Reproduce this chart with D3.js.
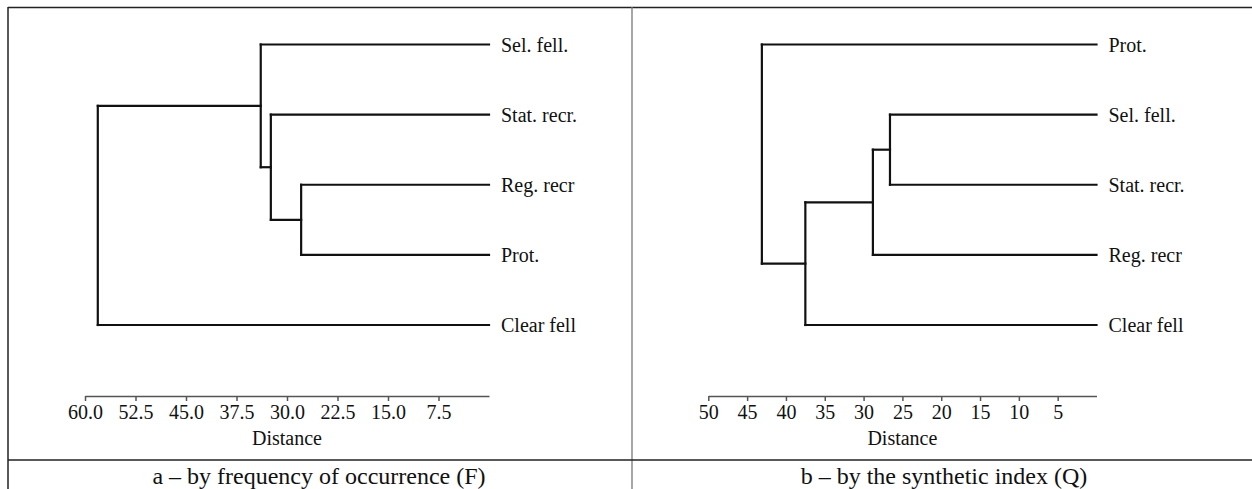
<!DOCTYPE html>
<html>
<head>
<meta charset="utf-8">
<script src="https://cdn.jsdelivr.net/npm/d3@7"></script>
<style>
  body { margin: 0; background: #fff; }
  text { font-family: "Liberation Serif", "Times New Roman", serif; fill: #111; }
</style>
</head>
<body>
<div id="chart"></div>
<script>
// leaf order (top to bottom) and merges [childA, childB, distance]
// indices >= leaves.length point at earlier merges
var leftLeaves = ["Sel. fell.", "Stat. recr.", "Reg. recr", "Prot.", "Clear fell"];
var leftMerges = [[2, 3, 27.9], [1, 5, 32.4], [0, 6, 33.9], [7, 4, 58.1]];
var leftTicks = [60, 52.5, 45, 37.5, 30, 22.5, 15, 7.5];
var leftCaption = "a \u2013 by frequency of occurrence (F)";

var rightLeaves = ["Prot.", "Sel. fell.", "Stat. recr.", "Reg. recr", "Clear fell"];
var rightMerges = [[1, 2, 26.6], [5, 3, 28.8], [6, 4, 37.5], [0, 7, 43.1]];
var rightTicks = [50, 45, 40, 35, 30, 25, 20, 15, 10, 5];
var rightCaption = "b \u2013 by the synthetic index (Q)";

var width = 1252, height = 489;

var svg = d3.select("#chart").append("svg")
    .attr("width", width)
    .attr("height", height);

// table frame
var frame = svg.append("g").attr("fill", "none");
frame.append("line").attr("x1", 8).attr("x2", width).attr("y1", 7.5).attr("y2", 7.5)
    .attr("stroke", "#222").attr("stroke-width", 1.5);
frame.append("line").attr("x1", 8).attr("x2", 8).attr("y1", 7).attr("y2", height)
    .attr("stroke", "#222").attr("stroke-width", 1.5);
frame.append("line").attr("x1", 632).attr("x2", 632).attr("y1", 7).attr("y2", height)
    .attr("stroke", "#777").attr("stroke-width", 1.3);
frame.append("line").attr("x1", 8).attr("x2", width).attr("y1", 460).attr("y2", 460)
    .attr("stroke", "#222").attr("stroke-width", 1.5);

function buildTree(leaves, merges) {
    var nodes = leaves.map(function(name) { return {name: name, dist: 0}; });
    merges.forEach(function(m) {
        nodes.push({children: [nodes[m[0]], nodes[m[1]]], dist: m[2]});
    });
    return d3.hierarchy(nodes[nodes.length - 1]);
}

function drawDendro(opt) {
    var g = svg.append("g");

    var x = d3.scaleLinear().domain([opt.maxDist, 0]).range(opt.xRange);
    var y = d3.scalePoint().domain(opt.leaves).range([44.5, 325]);

    var root = buildTree(opt.leaves, opt.merges);
    root.eachAfter(function(d) {
        d.px = x(d.data.dist);
        if (!d.children) d.py = y(d.data.name);
        else d.py = (d.children[0].py + d.children[d.children.length - 1].py) / 2;
    });

    var internal = root.descendants().filter(function(d) { return d.children; });

    // vertical joins
    g.selectAll(".vert")
        .data(internal)
        .enter().append("line")
        .attr("x1", function(d) { return d.px; })
        .attr("x2", function(d) { return d.px; })
        .attr("y1", function(d) { return d.children[0].py; })
        .attr("y2", function(d) { return d.children[d.children.length - 1].py; })
        .attr("stroke", "#111").attr("stroke-width", 2.2).attr("stroke-linecap", "square");

    // horizontal arms
    g.selectAll(".arm")
        .data(root.descendants().filter(function(d) { return d.parent; }))
        .enter().append("line")
        .attr("x1", function(d) { return d.parent.px; })
        .attr("x2", function(d) { return d.px; })
        .attr("y1", function(d) { return d.py; })
        .attr("y2", function(d) { return d.py; })
        .attr("stroke", "#111").attr("stroke-width", 2.2).attr("stroke-linecap", "square");

    // leaf labels
    g.selectAll(".leaf")
        .data(root.leaves())
        .enter().append("text")
        .attr("x", function(d) { return d.px + 12; })
        .attr("y", function(d) { return d.py; })
        .attr("dy", "0.35em")
        .attr("font-size", "20px")
        .text(function(d) { return d.data.name; });

    // distance axis
    var axis = d3.axisBottom(x)
        .tickValues(opt.ticks)
        .tickFormat(opt.fmt)
        .tickSize(5)
        .tickSizeOuter(0)
        .tickPadding(4);

    var ax = g.append("g")
        .attr("transform", "translate(0,396)")
        .call(axis);
    ax.select(".domain").attr("stroke", "#555").attr("stroke-width", 1.5);
    ax.selectAll(".tick line").attr("stroke", "#555").attr("stroke-width", 1.5);
    ax.selectAll(".tick text")
        .attr("font-family", "Liberation Serif, Times New Roman, serif")
        .attr("font-size", "20px")
        .attr("fill", "#111");

    g.append("text")
        .attr("x", (opt.xRange[0] + opt.xRange[1]) / 2)
        .attr("y", 445)
        .attr("text-anchor", "middle")
        .attr("font-size", "20px")
        .text("Distance");

    g.append("text")
        .attr("x", opt.captionX)
        .attr("y", 484)
        .attr("text-anchor", "middle")
        .attr("font-size", "24px")
        .text(opt.caption);
}

drawDendro({
    leaves: leftLeaves, merges: leftMerges, ticks: leftTicks,
    maxDist: 60, xRange: [85, 489], fmt: d3.format(".1f"),
    caption: leftCaption, captionX: 319
});

drawDendro({
    leaves: rightLeaves, merges: rightMerges, ticks: rightTicks,
    maxDist: 50, xRange: [708.3, 1096.5], fmt: d3.format("d"),
    caption: rightCaption, captionX: 944
});
</script>
</body>
</html>
